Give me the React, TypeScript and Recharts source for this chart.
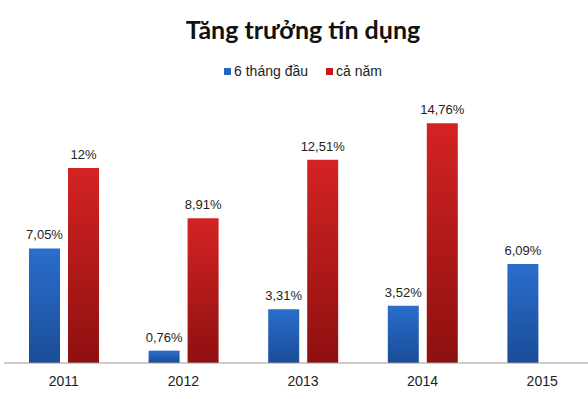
import React from 'react'
import { BarChart, Bar, XAxis, YAxis, LabelList } from 'recharts'

const years = ['2011', '2012', '2013', '2014', '2015']
const firstHalf = [7.05, 0.76, 3.31, 3.52, 6.09]
const fullYear: (number | null)[] = [12, 8.91, 12.51, 14.76, null]

const data = years.map((year, i) => ({
  year,
  firstHalf: firstHalf[i],
  fullYear: fullYear[i],
}))

const fmt = (v: any) => {
  if (v == null) return ''
  const n = Number(v)
  return (Number.isInteger(n) ? String(n) : n.toFixed(2).replace('.', ',')) + '%'
}

const font = '"Liberation Sans", Arial, sans-serif'

function LegendBox() {
  const items = [
    { label: '6 tháng đầu', color: '#2566c2' },
    { label: 'cả năm', color: '#c21c1c' },
  ]
  return (
    <div
      style={{
        position: 'absolute',
        top: 63,
        left: 0,
        width: 606,
        display: 'flex',
        justifyContent: 'center',
        gap: 18,
        fontFamily: font,
        fontSize: 14,
        color: '#222',
      }}
    >
      {items.map((it) => (
        <div key={it.label} style={{ display: 'flex', alignItems: 'center' }}>
          <span style={{ width: 7, height: 7, background: it.color, marginRight: 3, display: 'inline-block' }} />
          {it.label}
        </div>
      ))}
    </div>
  )
}

export default function App() {
  return (
    <div style={{ position: 'absolute', left: 0, top: 0, width: 588, height: 399, overflow: 'hidden', background: '#fff' }}>
      <div
        style={{
          position: 'absolute',
          left: 0,
          top: 14,
          width: 606,
          textAlign: 'center',
          fontFamily: 'Lato, sans-serif',
          fontWeight: 700,
          fontSize: 25,
          color: '#111',
        }}
      >
        Tăng trưởng tín dụng
      </div>
      <LegendBox />
      <BarChart
        width={602}
        height={399}
        data={data}
        margin={{ top: 103, right: 0, bottom: 6, left: 4 }}
        barGap={8}
        barSize={31}
      >
        <defs>
          <linearGradient id="gBlue" x1="0" y1="0" x2="0" y2="1">
            <stop offset="0%" stopColor="#2a6ecd" />
            <stop offset="100%" stopColor="#1a4c98" />
          </linearGradient>
          <linearGradient id="gRed" x1="0" y1="0" x2="0" y2="1">
            <stop offset="0%" stopColor="#d42323" />
            <stop offset="100%" stopColor="#8e1010" />
          </linearGradient>
        </defs>
        <XAxis
          dataKey="year"
          height={30}
          tickLine={false}
          axisLine={{ stroke: '#9a9a9a' }}
          tick={{ fill: '#222', fontSize: 14, fontFamily: font, dy: 5 }}
        />
        <YAxis hide domain={[0, 16]} />
        <Bar dataKey="firstHalf" fill="url(#gBlue)" isAnimationActive={false}>
          <LabelList dataKey="firstHalf" position="top" offset={9} formatter={fmt} style={{ fill: '#222', fontSize: 13, fontFamily: font }} />
        </Bar>
        <Bar dataKey="fullYear" fill="url(#gRed)" isAnimationActive={false}>
          <LabelList dataKey="fullYear" position="top" offset={9} formatter={fmt} style={{ fill: '#222', fontSize: 13, fontFamily: font }} />
        </Bar>
      </BarChart>
    </div>
  )
}
